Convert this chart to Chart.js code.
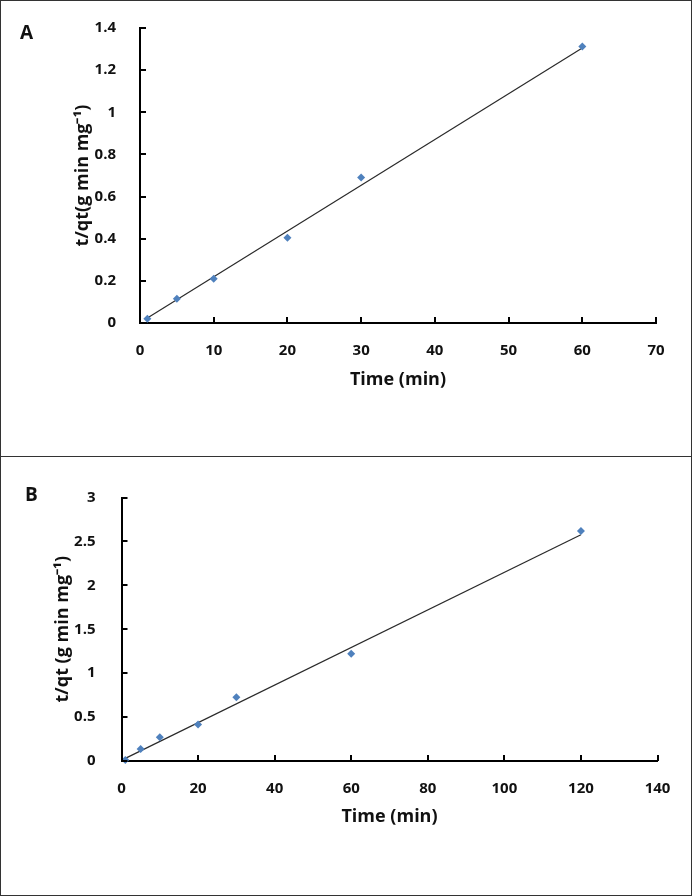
<!DOCTYPE html>
<html>
<head>
<meta charset="utf-8">
<script src="https://cdn.jsdelivr.net/npm/chart.js@4.4.1/dist/chart.umd.min.js"></script>
<style>
  html, body { margin: 0; padding: 0; background: #fff; }
  #page { position: relative; width: 692px; height: 896px; overflow: hidden; }
  .frame { position: absolute; left: 0; top: 0; width: 692px; height: 896px; box-sizing: border-box; border: 1px solid #333; pointer-events: none; }
  .divider { position: absolute; left: 0; top: 456px; width: 692px; height: 1px; background: #333; }
  .panel { position: absolute; left: 0; }
  .letter { position: absolute; font-family: 'Open Sans', sans-serif; font-weight: 700; font-size: 19px; color: #111; }
</style>
</head>
<body>
<div id="page">
  <canvas id="chartA" class="panel" width="692" height="456" style="top:0"></canvas>
  <canvas id="chartB" class="panel" width="692" height="438" style="top:457px"></canvas>
  <div class="letter" style="left:20px; top:19px">A</div>
  <div class="letter" style="left:25px; top:481px">B</div>
  <div class="divider"></div>
  <div class="frame"></div>
</div>
<script>
// Panel A data
const timeA = [1, 5, 10, 20, 30, 60];
const tqA = [0.02, 0.115, 0.21, 0.405, 0.69, 1.312];
const fitTimeA = [1, 60];
const fitTqA = [0.024, 1.305];
const xTicksA = [0, 10, 20, 30, 40, 50, 60, 70];
const yTicksA = [0, 0.2, 0.4, 0.6, 0.8, 1, 1.2, 1.4];

// Panel B data
const timeB = [1, 5, 10, 20, 30, 60, 120];
const tqB = [0.01, 0.137, 0.27, 0.415, 0.725, 1.22, 2.62];
const fitTimeB = [1, 120];
const fitTqB = [0.03, 2.575];
const xTicksB = [0, 20, 40, 60, 80, 100, 120, 140];
const yTicksB = [0, 0.5, 1, 1.5, 2, 2.5, 3];

const FONT = "'Open Sans', sans-serif";
const markerColor = '#4F81BD';

// small inward tick marks like the Excel original
const innerTicks = {
    id: 'innerTicks',
    afterDraw(chart) {
        const ctx = chart.ctx;
        const x = chart.scales.x, y = chart.scales.y;
        const area = chart.chartArea;
        ctx.save();
        ctx.strokeStyle = '#000';
        ctx.lineWidth = 2;
        ctx.beginPath();
        x.ticks.forEach(t => {
            const px = Math.round(x.getPixelForValue(t.value));
            ctx.moveTo(px, area.bottom);
            ctx.lineTo(px, area.bottom - 6);
        });
        y.ticks.forEach(t => {
            const py = Math.round(y.getPixelForValue(t.value));
            ctx.moveTo(area.left, py);
            ctx.lineTo(area.left + 6, py);
        });
        ctx.stroke();
        ctx.restore();
    }
};

function makeChart(id, cfg) {
    const points = cfg.time.map((t, i) => ({ x: t, y: cfg.tq[i] }));
    const fit = cfg.fitTime.map((t, i) => ({ x: t, y: cfg.fitTq[i] }));

    return new Chart(document.getElementById(id), {
        type: 'scatter',
        data: {
            datasets: [
                {
                    data: fit,
                    showLine: true,
                    borderColor: '#2a2a2a',
                    borderWidth: 1.2,
                    pointRadius: 0,
                    order: 2
                },
                {
                    data: points,
                    pointStyle: 'rectRot',
                    pointRadius: 4,
                    backgroundColor: markerColor,
                    borderColor: markerColor,
                    borderWidth: 0,
                    clip: false,
                    order: 1
                }
            ]
        },
        options: {
            responsive: false,
            animation: false,
            events: [],
            layout: { padding: cfg.padding },
            plugins: {
                legend: { display: false },
                tooltip: { enabled: false }
            },
            scales: {
                x: {
                    type: 'linear',
                    min: cfg.xTicks[0],
                    max: cfg.xTicks[cfg.xTicks.length - 1],
                    afterBuildTicks: s => { s.ticks = cfg.xTicks.map(v => ({ value: v })); },
                    afterFit: s => { s.height = 80; },
                    grid: { display: false },
                    border: { display: true, color: '#000', width: 2 },
                    ticks: {
                        color: '#111',
                        padding: cfg.xTickPad,
                        maxRotation: 0,
                        font: { family: FONT, size: 15, weight: 'bold' },
                        callback: v => String(v)
                    },
                    title: {
                        display: true,
                        text: 'Time (min)',
                        color: '#111',
                        font: { family: FONT, size: 18, weight: 'bold' },
                        padding: { top: 0, bottom: cfg.xTitlePad }
                    }
                },
                y: {
                    type: 'linear',
                    min: cfg.yTicks[0],
                    max: cfg.yTicks[cfg.yTicks.length - 1],
                    afterBuildTicks: s => { s.ticks = cfg.yTicks.map(v => ({ value: v })); },
                    afterFit: s => { s.width = cfg.yWidth; },
                    grid: { display: false },
                    border: { display: true, color: '#000', width: 2 },
                    ticks: {
                        color: '#111',
                        padding: cfg.yTickPad,
                        font: { family: FONT, size: 15, weight: 'bold' },
                        callback: v => String(v)
                    },
                    title: {
                        display: true,
                        text: cfg.yTitle,
                        color: '#111',
                        font: { family: FONT, size: 18, weight: 'bold' },
                        padding: { top: 12, bottom: 0 }
                    }
                }
            }
        },
        plugins: [innerTicks]
    });
}

makeChart('chartA', {
    time: timeA, tq: tqA, fitTime: fitTimeA, fitTq: fitTqA,
    xTicks: xTicksA, yTicks: yTicksA,
    yTitle: 't/qt(g min mg\u207B\u00B9)',
    padding: { left: 60, right: 36, top: 28, bottom: 53 },
    yWidth: 80, yTickPad: 16, xTickPad: 11, xTitlePad: 12
});

makeChart('chartB', {
    time: timeB, tq: tqB, fitTime: fitTimeB, fitTq: fitTqB,
    xTicks: xTicksB, yTicks: yTicksB,
    yTitle: 't/qt (g min mg\u207B\u00B9)',
    padding: { left: 40, right: 34.5, top: 40.5, bottom: 54 },
    yWidth: 81.5, yTickPad: 18, xTickPad: 11, xTitlePad: 13
});
</script>
</body>
</html>
